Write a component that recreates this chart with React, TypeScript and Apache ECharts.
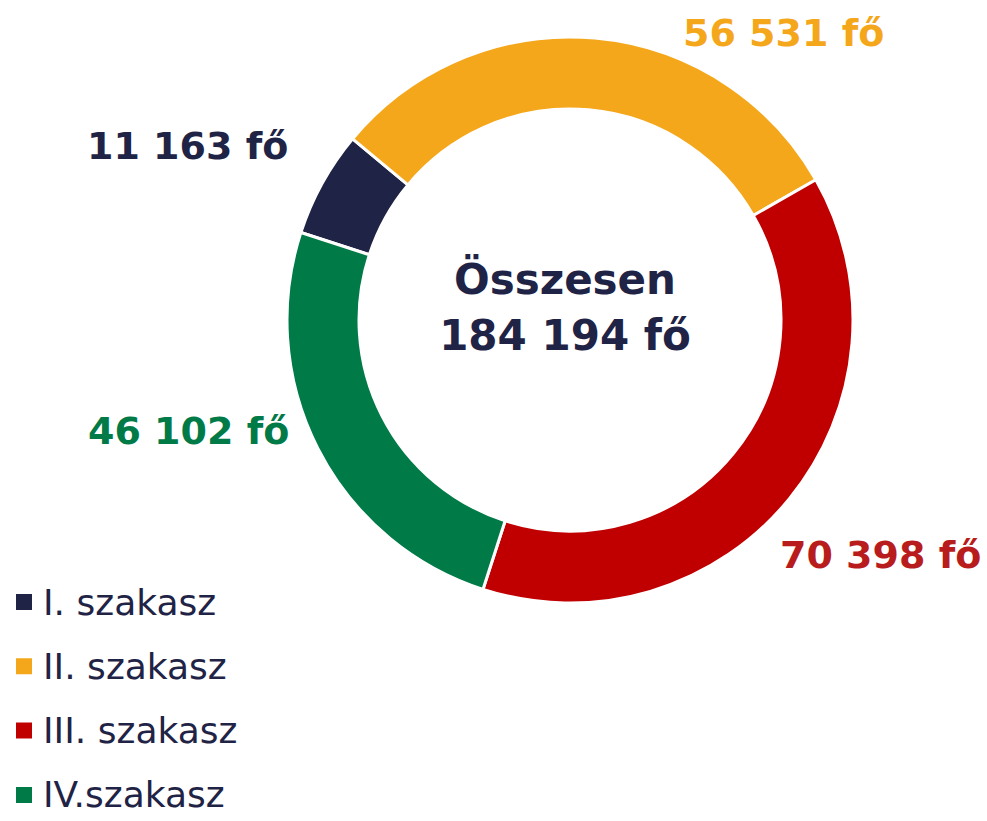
import React, { useEffect, useRef } from "react";
import * as echarts from "echarts";

const categories = ["I. szakasz", "II. szakasz", "III. szakasz", "IV.szakasz"];
const values = [11163, 56531, 70398, 46102];
const sliceColors = ["#1F2345", "#F5A71C", "#C00000", "#007A47"];
const labelColors = ["#1F2345", "#F5A71C", "#B81C1C", "#007A47"];
const labelPositions = [
  [87, 146],
  [683, 33],
  [780, 555],
  [88, 431],
];
const centerTitle = "Összesen";
const unit = "fő";

const fmt = (n: number) => String(n).replace(/\B(?=(\d{3})+(?!\d))/g, " ");

export default function App() {
  const ref = useRef<HTMLDivElement>(null);
  useEffect(() => {
    if (!ref.current) return;
    const chart = echarts.init(ref.current, undefined, { renderer: "svg" });
    const total = values.reduce((a, b) => a + b, 0);
    const font = "'DejaVu Sans', Verdana, sans-serif";
    chart.setOption({
      animation: false,
      backgroundColor: "#ffffff",
      legend: {
        orient: "vertical",
        left: 14,
        top: 584,
        height: 400,
        padding: 0,
        itemWidth: 18,
        itemHeight: 18,
        itemGap: 28.3,
        icon: "rect",
        data: categories,
        textStyle: {
          fontFamily: font,
          fontSize: 36,
          color: "#1F2345",
          lineHeight: 34,
          padding: [0, 0, 0, 5],
        },
      },
      graphic: [
        {
          type: "text",
          x: 565,
          y: 307,
          style: {
            text: `${centerTitle}\n${fmt(total)} ${unit}`,
            fontFamily: font,
            fontWeight: "bold",
            fontSize: 42,
            lineHeight: 56,
            fill: "#1F2345",
            textAlign: "center",
            textVerticalAlign: "middle",
          },
        },
      ],
      series: [
        {
          type: "pie",
          center: [570, 320],
          radius: [211, 283],
          startAngle: 162,
          clockwise: true,
          avoidLabelOverlap: false,
          itemStyle: { borderColor: "#ffffff", borderWidth: 3 },
          label: {
            show: true,
            position: "outside",
            formatter: (p: any) => `${fmt(p.value)} ${unit}`,
            fontFamily: font,
            fontWeight: "bold",
            fontSize: 38,
          },
          labelLine: { show: false },
          labelLayout: (p: any) => ({
            x: labelPositions[p.dataIndex][0],
            y: labelPositions[p.dataIndex][1],
            align: "left",
            verticalAlign: "middle",
          }),
          emphasis: { disabled: true },
          data: categories.map((c, i) => ({
            name: c,
            value: values[i],
            itemStyle: { color: sliceColors[i] },
            label: { color: labelColors[i] },
          })),
        },
      ],
    });
    return () => chart.dispose();
  }, []);
  return (
    <div
      ref={ref}
      style={{ position: "fixed", left: 0, top: 0, width: 987, height: 821 }}
    />
  );
}
